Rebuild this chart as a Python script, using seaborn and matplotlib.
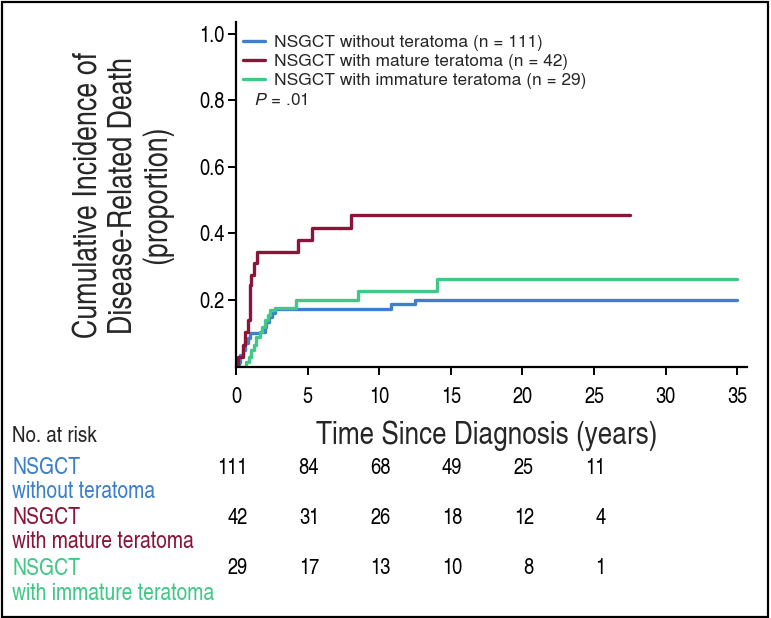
import matplotlib
matplotlib.use('Agg')
import matplotlib.pyplot as plt
import seaborn as sns
import pandas as pd
from matplotlib.transforms import blended_transform_factory
from matplotlib.patches import Rectangle
from matplotlib.font_manager import FontProperties

# ---------------- data ----------------
groups = ["NSGCT without teratoma (n = 111)",
          "NSGCT with mature teratoma (n = 42)",
          "NSGCT with immature teratoma (n = 29)"]

blue_t = [0, 0.2, 0.3, 0.45, 0.6, 0.8, 0.95, 1.7, 2.0, 2.1, 2.3, 2.5, 2.7, 10.8, 12.5, 35]
blue_v = [0, 0.015, 0.035, 0.05, 0.07, 0.085, 0.10, 0.105, 0.12, 0.135, 0.15, 0.16, 0.172, 0.187, 0.2, 0.2]

red_t = [0, 0.1, 0.45, 0.62, 0.85, 0.95, 1.0, 1.06, 1.23, 1.46, 4.35, 5.28, 8.03, 27.5]
red_v = [0, 0.03, 0.065, 0.105, 0.14, 0.19, 0.245, 0.275, 0.31, 0.343, 0.38, 0.417, 0.456, 0.456]

green_t = [0, 0.71, 0.9, 1.06, 1.23, 1.41, 1.65, 1.83, 2.0, 2.23, 2.39, 2.7, 4.2, 8.5, 14.05, 35]
green_v = [0, 0.015, 0.03, 0.05, 0.065, 0.09, 0.105, 0.12, 0.14, 0.155, 0.17, 0.175, 0.2, 0.228, 0.263, 0.263]

x_ticks = [0, 5, 10, 15, 20, 25, 30, 35]
y_ticks = [0.2, 0.4, 0.6, 0.8, 1.0]
y_ticklabels = ["0.2", "0.4", "0.6", "0.8", "1.0"]

risk_times = [0, 5, 10, 15, 20, 25]
risk_blue = [111, 84, 68, 49, 25, 11]
risk_red = [42, 31, 26, 18, 12, 4]
risk_green = [29, 17, 13, 10, 8, 1]
row_names = [("NSGCT", "without teratoma"),
             ("NSGCT", "with mature teratoma"),
             ("NSGCT", "with immature teratoma")]

colors = ["#3d7fcc", "#8b1538", "#3fc886"]

# ---------------- figure ----------------
sns.set_theme(style='ticks')
COND = 'TeX Gyre Heros Cn'
REG = 'TeX Gyre Heros'
plt.rcParams['font.family'] = [COND, 'DejaVu Sans']
plt.rcParams['mathtext.fontset'] = 'custom'
plt.rcParams['mathtext.it'] = REG + ':italic'
plt.rcParams['mathtext.rm'] = REG

W, H = 771, 618
fig = plt.figure(figsize=(W / 100, H / 100), dpi=100)
fig.patch.set_facecolor('white')

def fx(px):
    return px / W

def fy(py):
    return 1 - py / H

ax = fig.add_axes([fx(236.1), fy(366.5), fx(746.7) - fx(236.1), fy(22) - fy(366.5)])

frames = []
for g, t, v in zip(groups, [blue_t, red_t, green_t], [blue_v, red_v, green_v]):
    frames.append(pd.DataFrame({'t': t, 'v': v, 'group': g}))
df = pd.concat(frames, ignore_index=True)

sns.lineplot(data=df, x='t', y='v', hue='group', hue_order=groups,
             palette=colors, drawstyle='steps-post', estimator=None,
             sort=False, linewidth=2.4, ax=ax)

ax.set_xlim(0, 35.66)
ax.set_ylim(0, 1.036)
ax.set_xticks(x_ticks)
ax.set_yticks(y_ticks)
ax.set_yticklabels(y_ticklabels)
ax.set_xlabel('')
ax.set_ylabel('')
for s in ['top', 'right']:
    ax.spines[s].set_visible(False)
for s in ['left', 'bottom']:
    ax.spines[s].set_linewidth(1.6)
    ax.spines[s].set_color('black')
ax.tick_params(axis='both', direction='out', length=6, width=1.4, colors='black',
               labelsize=16)
ax.tick_params(axis='x', pad=9)
ax.tick_params(axis='y', pad=2)

# legend
handles, labels = ax.get_legend_handles_labels()
ax.legend(handles, labels, loc='upper left',
          bbox_to_anchor=(fx(243), fy(35)), bbox_transform=fig.transFigure,
          frameon=False, prop=FontProperties(family=REG, size=12.5),
          handlelength=1.25, handletextpad=0.55, labelspacing=0.17,
          borderaxespad=0, borderpad=0)

fig.text(fx(254), fy(101), r"$P$ = .01", fontsize=12.5, family=REG,
         ha='left', va='center')

# axis titles
fig.text(fx(123), fy(195), "Cumulative Incidence of\nDisease-Related Death\n(proportion)",
         rotation=90, ha='center', va='center', multialignment='center',
         fontsize=23.5, linespacing=1.12)
fig.text(fx(487), fy(436), "Time Since Diagnosis (years)", ha='center', va='center',
         fontsize=23)

# risk table
fig.text(fx(12), fy(436), "No. at risk", ha='left', va='center', fontsize=16.5)
tr = blended_transform_factory(ax.transData, fig.transFigure)
row_y = [468, 518, 569]
for (n1, n2), risks, c, yy in zip(row_names, [risk_blue, risk_red, risk_green], colors, row_y):
    fig.text(fx(12), fy(yy), n1, ha='left', va='center', fontsize=17, color=c)
    fig.text(fx(12), fy(yy + 24.5), n2, ha='left', va='center', fontsize=17, color=c)
    for t, r in zip(risk_times, risks):
        fig.text(t + 0.8, fy(yy), str(r), transform=tr, ha='right', va='center',
                 fontsize=16, color='black')

# figure border
fig.patches.append(Rectangle((fx(1.5), fy(616.5)), fx(768) - fx(1.5), fy(1.5) - fy(616.5),
                             transform=fig.transFigure, fill=False,
                             edgecolor='black', linewidth=1.6))

fig.savefig('out.png', dpi=100)
